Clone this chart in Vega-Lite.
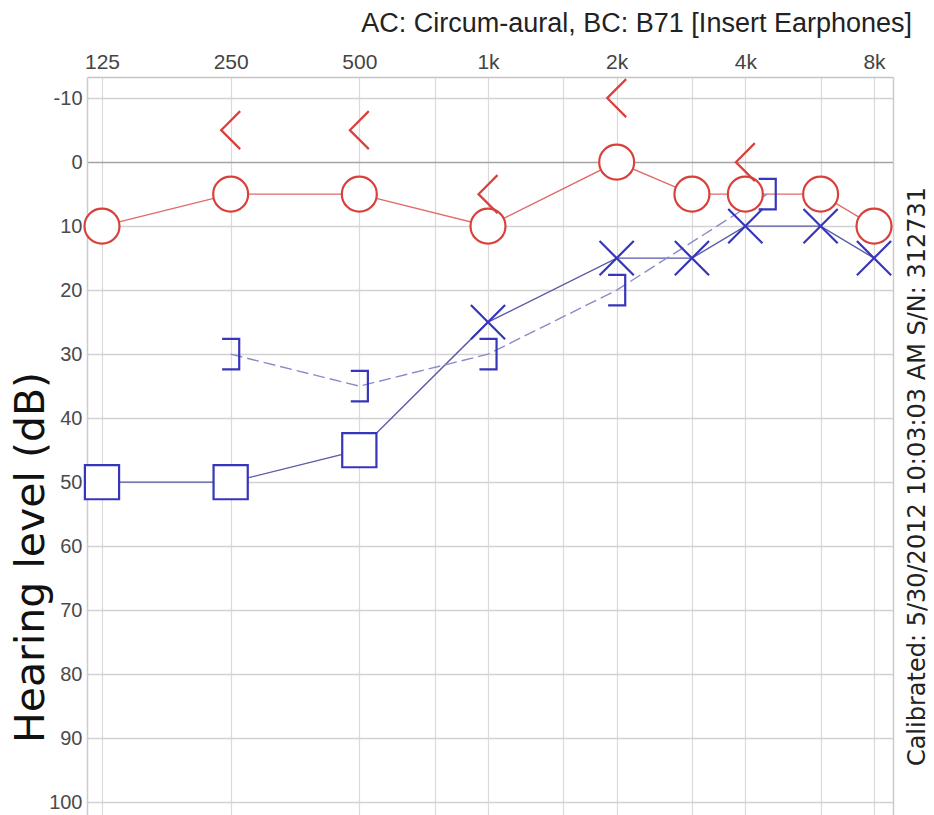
{
  "$schema": "https://vega.github.io/schema/vega-lite/v6.json",
  "width": 806,
  "height": 738,
  "autosize": {"type": "none"},
  "padding": {"left": 87, "top": 77, "right": 41, "bottom": 0},
  "background": "white",
  "config": {"view": {"stroke": null}},
  "title": {
    "text": "AC: Circum-aural, BC: B71 [Insert Earphones]",
    "anchor": "end",
    "frame": "group",
    "font": "Liberation Sans",
    "fontSize": 27,
    "fontWeight": "normal",
    "color": "#222222",
    "baseline": "alphabetic",
    "offset": -8,
    "dx": 19
  },
  "data": {
    "values": [
      {"ear": "R", "test": "AC", "sym": "O", "freq": 125, "db": 10},
      {"ear": "R", "test": "AC", "sym": "O", "freq": 250, "db": 5},
      {"ear": "R", "test": "AC", "sym": "O", "freq": 500, "db": 5},
      {"ear": "R", "test": "AC", "sym": "O", "freq": 1000, "db": 10},
      {"ear": "R", "test": "AC", "sym": "O", "freq": 2000, "db": 0},
      {"ear": "R", "test": "AC", "sym": "O", "freq": 3000, "db": 5},
      {"ear": "R", "test": "AC", "sym": "O", "freq": 4000, "db": 5},
      {"ear": "R", "test": "AC", "sym": "O", "freq": 6000, "db": 5},
      {"ear": "R", "test": "AC", "sym": "O", "freq": 8000, "db": 10},
      {"ear": "R", "test": "BC", "sym": "<", "freq": 250, "db": -5},
      {"ear": "R", "test": "BC", "sym": "<", "freq": 500, "db": -5},
      {"ear": "R", "test": "BC", "sym": "<", "freq": 1000, "db": 5},
      {"ear": "R", "test": "BC", "sym": "<", "freq": 2000, "db": -10},
      {"ear": "R", "test": "BC", "sym": "<", "freq": 4000, "db": 0},
      {"ear": "L", "test": "AC", "sym": "S", "freq": 125, "db": 50},
      {"ear": "L", "test": "AC", "sym": "S", "freq": 250, "db": 50},
      {"ear": "L", "test": "AC", "sym": "S", "freq": 500, "db": 45},
      {"ear": "L", "test": "AC", "sym": "X", "freq": 1000, "db": 25},
      {"ear": "L", "test": "AC", "sym": "X", "freq": 2000, "db": 15},
      {"ear": "L", "test": "AC", "sym": "X", "freq": 3000, "db": 15},
      {"ear": "L", "test": "AC", "sym": "X", "freq": 4000, "db": 10},
      {"ear": "L", "test": "AC", "sym": "X", "freq": 6000, "db": 10},
      {"ear": "L", "test": "AC", "sym": "X", "freq": 8000, "db": 15},
      {"ear": "L", "test": "BC", "sym": "]", "freq": 250, "db": 30},
      {"ear": "L", "test": "BC", "sym": "]", "freq": 500, "db": 35},
      {"ear": "L", "test": "BC", "sym": "]", "freq": 1000, "db": 30},
      {"ear": "L", "test": "BC", "sym": "]", "freq": 2000, "db": 20},
      {"ear": "L", "test": "BC", "sym": "]", "freq": 4500, "db": 5}
    ]
  },
  "encoding": {
    "x": {
      "field": "freq",
      "type": "quantitative",
      "scale": {"type": "log", "base": 2, "domain": [115.3, 8862], "nice": false},
      "axis": {
        "orient": "top",
        "title": null,
        "values": [125, 250, 500, 750, 1000, 1500, 2000, 3000, 4000, 6000, 8000],
        "labelExpr": "datum.value==125?'125':datum.value==250?'250':datum.value==500?'500':datum.value==1000?'1k':datum.value==2000?'2k':datum.value==4000?'4k':datum.value==8000?'8k':''",
        "ticks": false,
        "labelOverlap": false,
        "labelFlush": false,
        "labelFont": "Liberation Sans",
        "labelFontSize": 21,
        "labelColor": "#444444",
        "labelBaseline": "alphabetic",
        "labelPadding": 9,
        "domain": true,
        "domainColor": "#c4c4c4",
        "domainWidth": 1.5,
        "grid": true,
        "gridColor": "#dadada",
        "gridWidth": 1.2
      }
    },
    "y": {
      "field": "db",
      "type": "quantitative",
      "scale": {"domain": [-13.3, 102], "reverse": true, "nice": false, "zero": false},
      "axis": {
        "orient": "left",
        "title": "Hearing level (dB)",
        "titleFont": "DejaVu Sans",
        "titleFontSize": 41,
        "titleFontWeight": "normal",
        "titleColor": "#111111",
        "titleAngle": 270,
        "titleAlign": "center",
        "titleBaseline": "alphabetic",
        "titleX": -44,
        "titleY": 480,
        "values": [-10, 0, 10, 20, 30, 40, 50, 60, 70, 80, 90, 100],
        "labelExpr": "'' + datum.value",
        "ticks": false,
        "labelFont": "Liberation Sans",
        "labelFontSize": 20,
        "labelColor": "#4a4a4a",
        "labelPadding": 5,
        "domain": true,
        "domainColor": "#cccccc",
        "domainWidth": 1.5,
        "grid": true,
        "gridColor": {"condition": {"test": "datum.value===0", "value": "#a4a4a4"}, "value": "#d2d2d2"},
        "gridWidth": 1.6
      }
    }
  },
  "layer": [
    {
      "transform": [{"filter": "datum.ear==='R' && datum.test==='AC'"}],
      "mark": {"type": "line", "color": "#e06a6a", "strokeWidth": 1.4}
    },
    {
      "transform": [{"filter": "datum.ear==='L' && datum.test==='AC'"}],
      "mark": {"type": "line", "color": "#5a5aa6", "strokeWidth": 1.4},
      "encoding": {"y": {"field": "db", "type": "quantitative", "axis": null}}
    },
    {
      "transform": [{"filter": "datum.ear==='L' && datum.test==='BC'"}],
      "mark": {"type": "line", "color": "#8a8ac8", "strokeWidth": 1.4, "strokeDash": [12, 5]},
      "encoding": {"y": {"field": "db", "type": "quantitative", "axis": null}}
    },
    {
      "mark": {"type": "point", "size": 1444, "strokeWidth": 2.2, "opacity": 1},
      "encoding": {
        "y": {
          "field": "db",
          "type": "quantitative",
          "axis": {
            "orient": "right",
            "labels": false,
            "ticks": false,
            "grid": false,
            "domain": true,
            "domainColor": "#cccccc",
            "domainWidth": 1.5,
            "title": "Calibrated: 5/30/2012 10:03:03 AM  S/N: 312731",
            "titleFont": "DejaVu Sans",
            "titleFontSize": 24,
            "titleFontWeight": "normal",
            "titleColor": "#222222",
            "titleAngle": 270,
            "titleAlign": "center",
            "titleBaseline": "alphabetic",
            "titleX": 31,
            "titleY": 399
          }
        },
        "shape": {
          "field": "sym",
          "type": "nominal",
          "scale": {
            "domain": ["O", "<", "S", "X", "]"],
            "range": [
              "M0.92,0A0.92,0.92,0,1,1,-0.92,0A0.92,0.92,0,1,1,0.92,0Z",
              "M0.5,-1L-0.5,0L0.5,1",
              "M-0.9,-0.9L0.9,-0.9L0.9,0.9L-0.9,0.9Z",
              "M-0.9,-0.9L0.9,0.9M0.9,-0.9L-0.9,0.9",
              "M-0.45,-0.8L0.45,-0.8L0.45,0.8L-0.45,0.8"
            ]
          },
          "legend": null
        },
        "stroke": {
          "field": "ear",
          "type": "nominal",
          "scale": {"domain": ["R", "L"], "range": ["#d8413b", "#3636bc"]},
          "legend": null
        },
        "fill": {
          "condition": {"test": "datum.sym==='O' || datum.sym==='S'", "value": "white"},
          "value": "transparent"
        }
      }
    }
  ],
  "resolve": {"axis": {"y": "independent"}}
}
